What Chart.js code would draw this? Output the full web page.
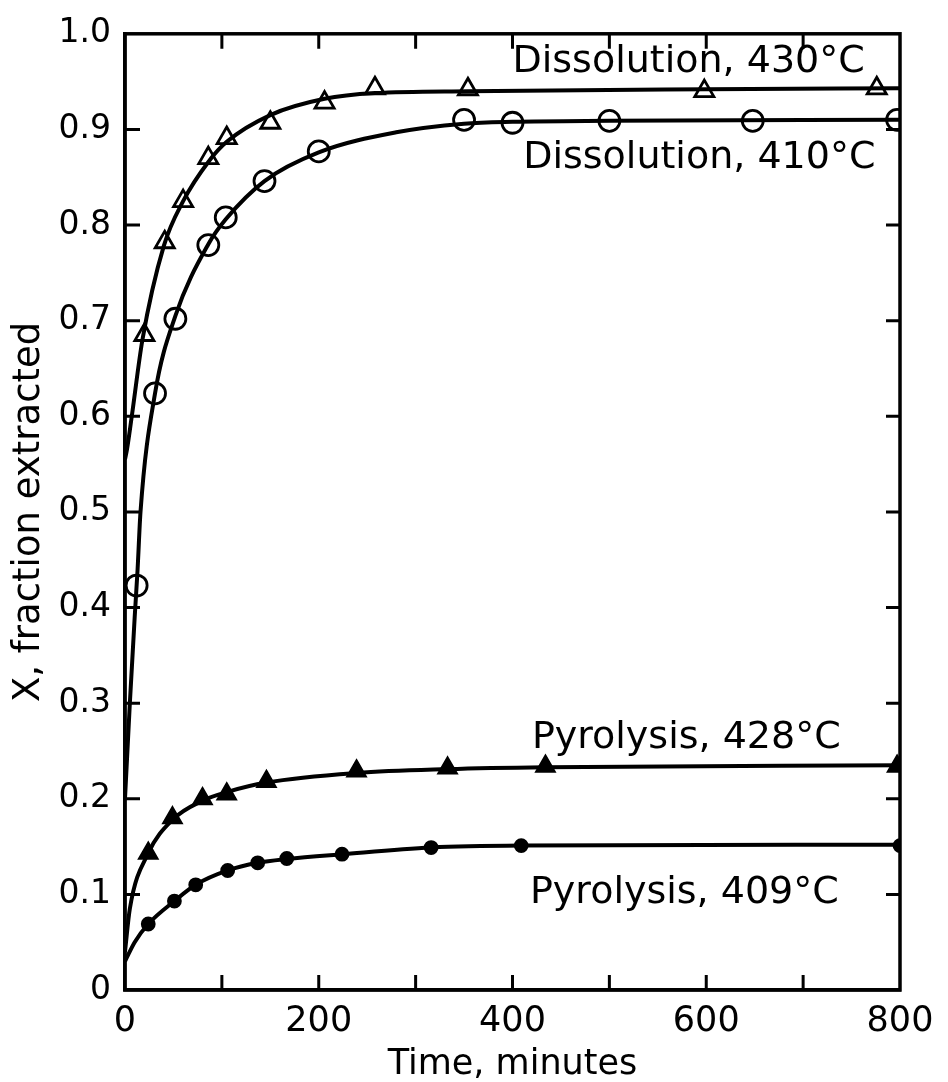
<!DOCTYPE html>
<html>
<head>
<meta charset="utf-8">
<script src="https://cdn.jsdelivr.net/npm/chart.js@4/dist/chart.umd.min.js"></script>
<style>
  html, body { margin: 0; padding: 0; background: #fff; }
  canvas { display: block; }
</style>
</head>
<body>
<canvas id="myChart" width="948" height="1082"></canvas>
<script>
// Dissolution, 430°C  (open triangles)
let dis430Time = [20, 41, 60, 86, 105, 150, 206, 258, 354, 598, 776];
let dis430Frac = [0.685, 0.782, 0.825, 0.870, 0.891, 0.907, 0.928, 0.943, 0.942, 0.940, 0.943];
let dis430CurveTime = [0, 2, 7, 18, 40, 60, 86, 105, 150, 206, 258, 354, 600, 800];
let dis430CurveFrac = [0.555, 0.565, 0.60, 0.68, 0.778, 0.825, 0.866, 0.887, 0.915, 0.932, 0.938, 0.940, 0.942, 0.943];

// Dissolution, 410°C  (open circles)
let dis410Time = [12, 31, 52, 86, 104, 144, 200, 350, 400, 500, 648, 797];
let dis410Frac = [0.423, 0.624, 0.702, 0.779, 0.808, 0.846, 0.877, 0.910, 0.907, 0.909, 0.909, 0.910];
let dis410CurveTime = [0, 5, 10, 13, 16, 31, 52, 86, 104, 144, 200, 280, 350, 400, 500, 800];
let dis410CurveFrac = [0.20, 0.30, 0.39, 0.44, 0.50, 0.624, 0.705, 0.78, 0.806, 0.846, 0.876, 0.897, 0.906, 0.908, 0.909, 0.910];

// Pyrolysis, 428°C  (filled triangles)
let pyr428Time = [24, 49, 80, 105, 146, 239, 333, 434, 797];
let pyr428Frac = [0.143, 0.180, 0.200, 0.205, 0.218, 0.229, 0.232, 0.234, 0.234];
let pyr428CurveTime = [0, 5, 24, 49, 80, 105, 146, 239, 333, 434, 800];
let pyr428CurveFrac = [0.04, 0.085, 0.143, 0.178, 0.198, 0.207, 0.217, 0.227, 0.231, 0.233, 0.235];

// Pyrolysis, 409°C  (filled circles)
let pyr409Time = [24, 51, 73, 106, 137, 167, 224, 316, 409, 800];
let pyr409Frac = [0.069, 0.093, 0.110, 0.125, 0.133, 0.1375, 0.142, 0.149, 0.151, 0.151];
let pyr409CurveTime = [0, 10, 24, 51, 73, 106, 137, 167, 224, 316, 409, 800];
let pyr409CurveFrac = [0.03, 0.05, 0.069, 0.093, 0.110, 0.125, 0.133, 0.137, 0.142, 0.149, 0.151, 0.152];

// tick marks (all drawn inward) and labelled ticks
let xTickMarks = [100, 200, 300, 400, 500, 600, 700];
let yTickMarks = [0.1, 0.2, 0.3, 0.4, 0.5, 0.6, 0.7, 0.8, 0.9];

let curveLabels = ['Dissolution, 430°C', 'Dissolution, 410°C', 'Pyrolysis, 428°C', 'Pyrolysis, 409°C'];
// where each label sits, in data units (left edge, vertical centre)
let labelSpots = [[400, 0.970], [411, 0.870], [420, 0.263], [418, 0.101]];

function pts(xs, ys) {
    return xs.map((x, i) => ({x: x, y: ys[i]}));
}

function curve(xs, ys) {
    return {
        data: pts(xs, ys),
        showLine: true,
        borderColor: '#000',
        borderWidth: 4,
        pointRadius: 0,
        cubicInterpolationMode: 'monotone',
        fill: false
    };
}

function marks(xs, ys, style, radius, filled) {
    return {
        data: pts(xs, ys),
        showLine: false,
        pointStyle: style,
        pointRadius: radius,
        pointBorderColor: '#000',
        pointBorderWidth: 2.8,
        pointBackgroundColor: filled ? '#000' : 'rgba(0,0,0,0)'
    };
}

const frameAndLabels = {
    id: 'frameAndLabels',
    afterDraw(chart) {
        const ctx = chart.ctx;
        const a = chart.chartArea;
        const x = chart.scales.x;
        const y = chart.scales.y;
        ctx.save();
        ctx.strokeStyle = '#000';
        ctx.lineWidth = 3.5;
        ctx.strokeRect(a.left, a.top, a.right - a.left, a.bottom - a.top);

        ctx.lineWidth = 3;
        ctx.beginPath();
        xTickMarks.forEach(v => {
            let px = x.getPixelForValue(v);
            ctx.moveTo(px, a.bottom); ctx.lineTo(px, a.bottom - 15);
            ctx.moveTo(px, a.top); ctx.lineTo(px, a.top + 15);
        });
        yTickMarks.forEach(v => {
            let py = y.getPixelForValue(v);
            ctx.moveTo(a.left, py); ctx.lineTo(a.left + 15, py);
            ctx.moveTo(a.right, py); ctx.lineTo(a.right - 14, py);
        });
        ctx.stroke();

        ctx.fillStyle = '#000';
        ctx.font = '38px "DejaVu Sans"';
        ctx.textAlign = 'left';
        ctx.textBaseline = 'middle';
        curveLabels.forEach((t, i) => {
            ctx.fillText(t, x.getPixelForValue(labelSpots[i][0]), y.getPixelForValue(labelSpots[i][1]));
        });
        ctx.restore();
    }
};

let ctx = document.getElementById('myChart').getContext('2d');

let chart = new Chart(ctx, {
    type: 'scatter',
    data: {
        datasets: [
            curve(dis430CurveTime, dis430CurveFrac),
            curve(dis410CurveTime, dis410CurveFrac),
            curve(pyr428CurveTime, pyr428CurveFrac),
            curve(pyr409CurveTime, pyr409CurveFrac),
            marks(dis430Time, dis430Frac, 'triangle', 11, false),
            marks(dis410Time, dis410Frac, 'circle', 10.5, false),
            marks(pyr428Time, pyr428Frac, 'triangle', 10, true),
            marks(pyr409Time, pyr409Frac, 'circle', 6, true)
        ]
    },
    options: {
        responsive: false,
        animation: false,
        layout: { padding: { top: 29, right: 48, left: 0, bottom: 0 } },
        plugins: {
            legend: { display: false },
            tooltip: { enabled: false }
        },
        scales: {
            x: {
                type: 'linear',
                min: 0,
                max: 800,
                grid: { display: false, drawTicks: false },
                border: { display: true, color: '#000', width: 3.5 },
                ticks: {
                    stepSize: 200,
                    padding: 11,
                    color: '#000',
                    font: { family: 'DejaVu Sans', size: 35 },
                    maxRotation: 0
                },
                title: {
                    display: true,
                    text: 'Time, minutes',
                    color: '#000',
                    font: { family: 'DejaVu Sans', size: 35, lineHeight: 1 },
                    padding: { top: 0, bottom: 0 }
                },
                afterFit(scale) { scale.height = 92; }
            },
            y: {
                min: 0,
                max: 1,
                grid: { display: false, drawTicks: false },
                border: { display: true, color: '#000', width: 3.5 },
                ticks: {
                    stepSize: 0.1,
                    padding: 14,
                    color: '#000',
                    font: { family: 'DejaVu Sans', size: 33 },
                    callback: v => (v === 0 ? '0' : v.toFixed(1))
                },
                title: {
                    display: true,
                    text: 'X, fraction extracted',
                    color: '#000',
                    font: { family: 'DejaVu Sans', size: 37, lineHeight: 1 },
                    padding: { top: 11, bottom: 0 }
                },
                afterFit(scale) { scale.width = 125; }
            }
        }
    },
    plugins: [frameAndLabels]
});
</script>
</body>
</html>
